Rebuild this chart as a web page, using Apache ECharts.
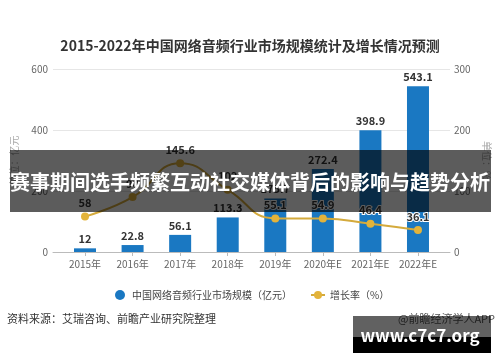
<!DOCTYPE html>
<html><head><meta charset="utf-8">
<script src="https://cdn.jsdelivr.net/npm/echarts@6/dist/echarts.min.js"></script>
<style>html,body{margin:0;padding:0;background:#fff}#c{width:500px;height:362px}</style>
</head><body><div id="c"></div>
<script>
var categories = ['2015年','2016年','2017年','2018年','2019年','2020年E','2021年E','2022年E'];
var marketSize = [12, 22.8, 56.1, 113.3, 175.7, 272.4, 398.9, 543.1];
var growthRate = [58, 90, 145.6, 102, 55.1, 54.9, 46.4, 36.1];
var leftTicks = [0, 200, 400, 600];
var rightTicks = [0, 100, 200, 300];
var titleText = '2015-2022年中国网络音频行业市场规模统计及增长情况预测';
var seriesNames = ['中国网络音频行业市场规模（亿元）', '增长率（%）'];
var bannerText = '赛事期间选手频繁互动社交媒体背后的影响与趋势分析';
var sourceText = '资料来源：艾瑞咨询、前瞻产业研究院整理';
var brandText = '@前瞻经济学人APP';
var siteText = 'www.c7c7.org';

var FONT = '"Noto Sans CJK SC", "Noto Sans", sans-serif';
var idx = categories.map(function(_, i){ return i; });
var chart = echarts.init(document.getElementById('c'), null, {renderer:'canvas'});
chart.setOption({
  animation: false,
  textStyle: {fontFamily: FONT},
  title: {text: titleText, left: 'center', top: 34, textStyle: {fontSize: 14, fontWeight: 'bold', color: '#333', fontFamily: FONT}},
  legend: {
    left: 110, top: 285, itemGap: 18, itemWidth: 14, itemHeight: 10,
    textStyle: {fontSize: 10, color: '#444', fontFamily: FONT},
    data: [{name: seriesNames[0], icon: 'circle'}, {name: seriesNames[1]}]
  },
  grid: {left: 53, right: 50, top: 69, bottom: 110},
  xAxis: {
    type: 'value', min: -0.673, max: 7.673,
    splitLine: {show: false},
    axisLine: {show: true, lineStyle: {color: '#bbb'}},
    axisTick: {show: true, customValues: idx, length: 4, lineStyle: {color: '#bbb'}},
    axisLabel: {customValues: idx, color: '#666', fontSize: 10, margin: 7,
      formatter: function(v){ return categories[Math.round(v)]; }}
  },
  yAxis: [
    {type: 'value', min: 0, max: 600, interval: 200, name: '单位：亿元', nameLocation: 'middle', nameGap: 34, nameRotate: 90,
     nameTextStyle: {color: '#aaa', fontSize: 10},
     axisLabel: {color: '#666', fontSize: 10, margin: 5, customValues: leftTicks},
     axisLine: {show: false}, axisTick: {show: false},
     splitLine: {lineStyle: {color: '#e6e6e6'}}},
    {type: 'value', min: 0, max: 300, interval: 100, name: '单位：%', nameLocation: 'middle', nameGap: 30, nameRotate: -90,
     nameTextStyle: {color: '#aaa', fontSize: 10},
     axisLabel: {color: '#666', fontSize: 10, margin: 4, customValues: rightTicks},
     axisLine: {show: false}, axisTick: {show: false}, splitLine: {show: false}}
  ],
  series: [
    {name: seriesNames[0], type: 'bar', barWidth: 22, yAxisIndex: 0,
     data: marketSize.map(function(v, i){ return [i, v]; }),
     itemStyle: {color: '#1a78c2'},
     label: {show: true, position: 'top', distance: 4, color: '#333', fontWeight: 'bold', fontSize: 11,
       formatter: function(p){ return p.value[1]; }}},
    {name: seriesNames[1], type: 'line', yAxisIndex: 1, smooth: true,
     data: growthRate.map(function(v, i){ return [i, v]; }),
     symbol: 'circle', symbolSize: 8,
     lineStyle: {color: '#d4aa3c', width: 2},
     itemStyle: {color: '#e3b33a'},
     label: {show: true, position: 'top', distance: 4, color: '#333', fontWeight: 'bold', fontSize: 11,
       textBorderColor: '#fff', textBorderWidth: 2,
       formatter: function(p){ return p.value[1]; }}}
  ],
  graphic: [
    {type: 'rect', shape: {x: 10, y: 150, width: 481, height: 62}, style: {fill: 'rgba(0,0,0,0.64)'}, z: 100},
    {type: 'text', x: 250, y: 182, style: {text: bannerText, fill: '#fff', font: 'bold 20px ' + FONT, textAlign: 'center', textVerticalAlign: 'middle'}, z: 101},
    {type: 'text', x: 7, y: 319, style: {text: sourceText, fill: '#333', font: '11px ' + FONT, textAlign: 'left', textVerticalAlign: 'middle'}, z: 100},
    {type: 'text', x: 495, y: 319, style: {text: brandText, fill: '#555', font: '11px ' + FONT, textAlign: 'right', textVerticalAlign: 'middle'}, z: 100},
    {type: 'rect', shape: {x: 353, y: 337, width: 138, height: 16}, style: {fill: '#000'}, z: 102},
    {type: 'rect', shape: {x: 353, y: 316, width: 138, height: 21}, style: {fill: 'rgba(0,0,0,0.62)'}, z: 102},
    {type: 'text', x: 420, y: 336, style: {text: siteText, fill: '#fff', font: 'bold 17px ' + FONT, textAlign: 'center', textVerticalAlign: 'middle'}, z: 103}
  ]
});
</script></body></html>
